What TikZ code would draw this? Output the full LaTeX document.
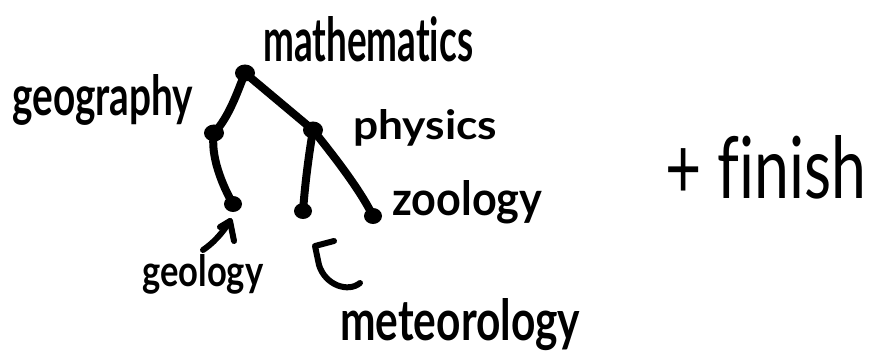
\documentclass[tikz,border=0pt]{standalone}
\usepackage{fontspec}
\setmainfont[Ligatures=NoCommon]{Lato}
\usepackage{graphicx}
\usetikzlibrary{shapes.geometric}
\begin{document}
\begin{tikzpicture}[x=1pt,y=-1pt,
  dot/.style={ellipse, fill=black, inner sep=0, minimum width=20pt, minimum height=17pt},
  edge/.style={line width=8pt, line cap=round},
  lbl/.style={anchor=base west, inner sep=0, font=\bfseries},
  arr/.style={line width=6pt, line cap=round, line join=round}]
\useasboundingbox (0,0) rectangle (869,358);
% dots
\node[dot] (m) at (245,73) {};
\node[dot] (g) at (214,133) {};
\node[dot] (p) at (313,130) {};
\node[dot, minimum width=18pt, minimum height=16pt] (gl) at (233,204) {};
\node[dot, minimum width=18pt, minimum height=16pt] (ml) at (303,211) {};
\node[dot, minimum width=18pt, minimum height=16pt] (zl) at (373,216) {};
% edges
\draw[edge] (m.center) .. controls (237,93) and (229,117) .. (g.center);
\draw[edge] (g.center) .. controls (210,155) and (222,185) .. (gl.center);
\draw[edge] (m.center) -- (p.center);
\draw[edge] (p.center) .. controls (308,160) and (305,185) .. (ml.center);
\draw[edge] (p.center) .. controls (337,160) and (360,190) .. (zl.center);
% labels
\node[lbl] (tm) at (263,62) {\resizebox{210pt}{45pt}{mathematics}};
\node[lbl] (tg) at (12,116) {\resizebox{181pt}{41pt}{geography}};
\node[lbl] (tp) at (353,140) {\resizebox{144pt}{30pt}{physics}};
\node[lbl] (tz) at (392,215) {\resizebox{150pt}{35pt}{zoology}};
\node[lbl] (tgl) at (142,286) {\resizebox{121pt}{32pt}{geology}};
\node[lbl] (tml) at (340,340) {\resizebox{240pt}{42pt}{meteorology}};
\node[lbl, font=\mdseries] (tf) at (665,198) {\resizebox{201pt}{63pt}{+ f{}inish}};
% arrows
\coordinate (gtail) at (203,250);
\coordinate (gtip) at (230,221);
\draw[arr] (gtail) .. controls (212,244) and (222,234) .. (gtip);
\draw[arr] (220,227) -- (gtip) -- (234,241);
\coordinate (mtail) at (360,283);
\coordinate (mtip) at (315,246);
\draw[arr] (mtail) .. controls (348,293) and (325,285) .. (319,265) -- (mtip) -- (334,241);
\end{tikzpicture}
\end{document}
